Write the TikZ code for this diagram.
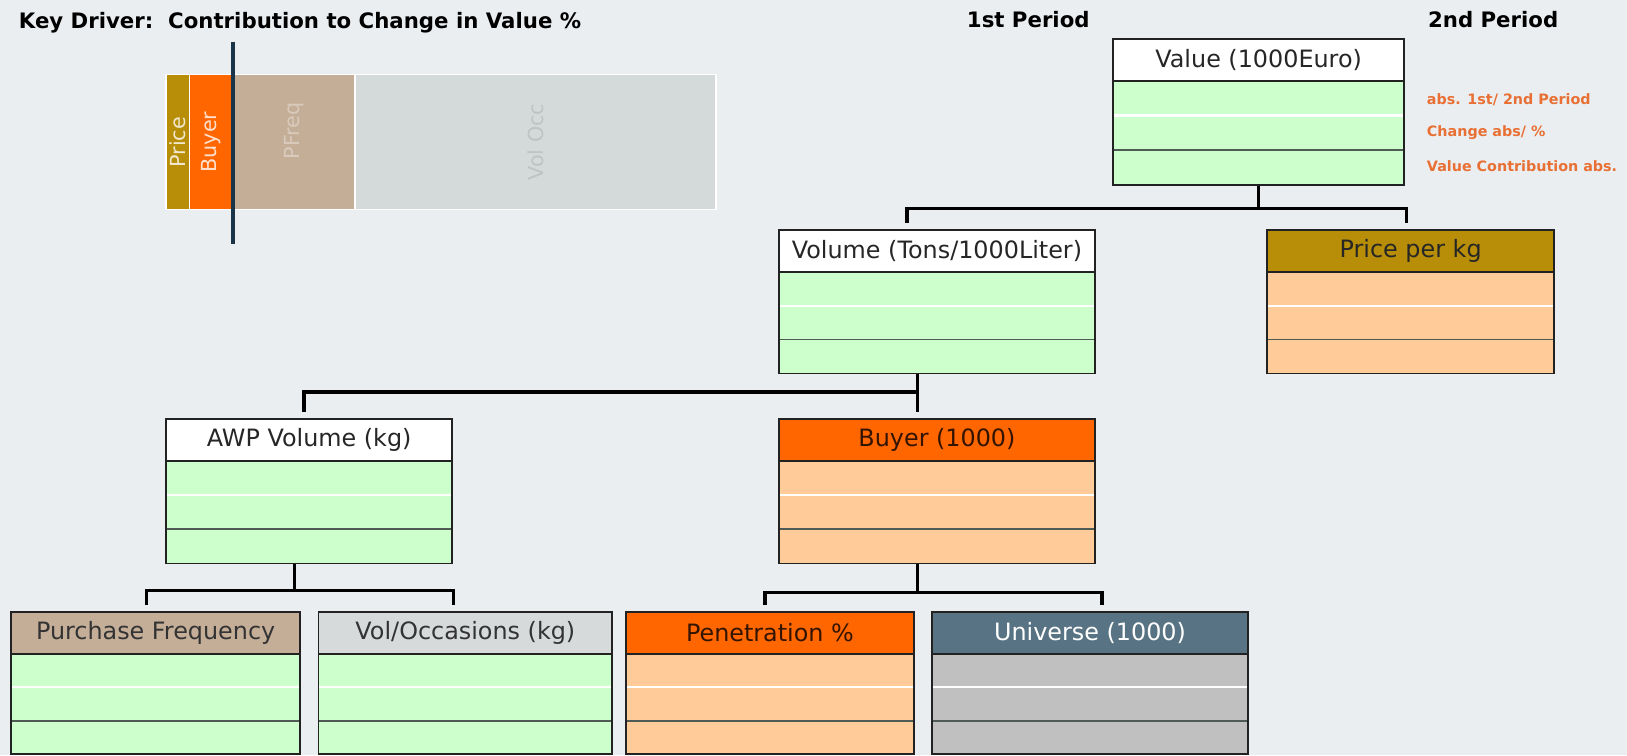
\documentclass[tikz,border=0pt]{standalone}
\usepackage{fontspec}
\setmainfont{DejaVu Sans}
\usetikzlibrary{fit,calc}

\definecolor{bg}{RGB}{235,238,240}
\definecolor{mint}{RGB}{204,255,204}
\definecolor{peach}{RGB}{255,204,153}
\definecolor{silverbody}{RGB}{192,192,192}
\definecolor{goldhead}{RGB}{184,142,8}
\definecolor{tangerine}{RGB}{255,102,0}
\definecolor{tanhead}{RGB}{196,174,152}
\definecolor{misthead}{RGB}{214,218,218}
\definecolor{mistbar}{RGB}{212,217,217}
\definecolor{slatehead}{RGB}{88,116,132}
\definecolor{notecol}{RGB}{232,112,52}
\definecolor{navyline}{RGB}{28,52,72}
\definecolor{edgecol}{RGB}{34,34,34}
\definecolor{rulecol}{RGB}{80,90,85}

\tikzset{
  headtext/.style={font=\fontsize{23}{27}\selectfont, inner sep=0pt},
  boxedge/.style={draw=edgecol, line width=1.8pt},
  whiterule/.style={white, line width=2pt},
  darkrule/.style={rulecol, line width=1.6pt},
  conn/.style={black, line width=3.4pt, line join=miter, shorten >=6pt},
  titletext/.style={font=\bfseries\fontsize{20.5}{24}\selectfont, text=black, inner sep=0pt},
  notetext/.style={font=\bfseries\fontsize{13.8}{16}\selectfont, text=notecol, inner sep=0pt, anchor=west},
  barlabel/.style={font=\fontsize{20}{24}\selectfont, rotate=90, inner sep=0pt},
}

% one table box: name, x1, y1, x2, y2, header fill, header text colour, body fill, caption
\newcommand\tabbox[9]{%
  \fill[#8] (#2,#3) rectangle (#4,#5);
  \fill[#6] (#2,#3) rectangle (#4,#3+40);
  \draw[whiterule] (#2,{#3+40+(#5-#3-40)/3}) -- (#4,{#3+40+(#5-#3-40)/3});
  \draw[darkrule] (#2,{#3+40+2*(#5-#3-40)/3}) -- (#4,{#3+40+2*(#5-#3-40)/3});
  \draw[edgecol, line width=2pt] (#2,#3+40) -- (#4,#3+40);
  \node[fit={(#2,#3) (#4,#5)}, inner sep=0pt, boxedge] (#1) {};
  \node[headtext, text=#7] (#1-cap) at ({(#2+#4)/2},#3+20) {#9};
}

\begin{document}
\begin{tikzpicture}[x=1pt,y=-1pt]
  \useasboundingbox (0,0) rectangle (1568,728);
  \fill[bg] (0,0) rectangle (1568,728);

  % headings
  \node[titletext, anchor=west] (title) at (18,22) {Key Driver:\ \ Contribution to Change in Value \%};
  \node[titletext] (p1) at (991,19) {1st Period};
  \node[titletext] (p2) at (1439,19) {2nd Period};

  % key driver bar
  \fill[goldhead] (160,72) rectangle (182.5,202);
  \fill[tangerine] (182.5,72) rectangle (224,202);
  \fill[tanhead] (224,72) rectangle (342,202);
  \fill[mistbar] (342,72) rectangle (690,202);
  \draw[white, line width=1.5pt] (160,72) rectangle (690,202);
  \draw[white, line width=1.5pt] (182.5,72) -- (182.5,202);
  \draw[white, line width=1.5pt] (342,72) -- (342,202);
  \node[barlabel, text=white!80!goldhead] (lprice) at (171.5,137) {Price};
  \node[barlabel, text=white!80!tangerine] (lbuyer) at (203,137) {Buyer};
  \node[barlabel, text=white!35!tanhead] (lpfreq) at (283,126) {PFreq};
  \node[barlabel, text=black!10!mistbar] (lvol) at (516,137) {Vol Occ};
  \draw[navyline, line width=4.5pt] (224.5,40) -- (224.5,235);

  % tables
  \tabbox{val}{1073}{38}{1353}{178}{white}{black!85}{mint}{Value (1000Euro)}
  \tabbox{vol}{751}{222}{1055}{360}{white}{black!85}{mint}{Volume (Tons/1000Liter)}
  \tabbox{price}{1221}{222}{1498}{360}{goldhead}{black!85}{peach}{Price per kg}
  \tabbox{awp}{160}{404}{436}{543}{white}{black!85}{mint}{AWP Volume (kg)}
  \tabbox{buyer}{751}{404}{1055}{543}{tangerine}{black!80!tangerine}{peach}{Buyer (1000)}
  \tabbox{pf}{11}{590}{289}{727}{tanhead}{black!80}{mint}{Purchase Frequency}
  \tabbox{vo}{307}{590}{590}{727}{misthead}{black!80}{mint}{Vol/Occasions (kg)}
  \tabbox{pen}{603}{590}{881}{727}{tangerine}{black!80!tangerine}{peach}{Penetration \%}
  \tabbox{uni}{898}{590}{1203}{727}{slatehead}{white}{silverbody}{Universe (1000)}

  % notes beside the value table
  \node[notetext] (n1) at (1375,96) {abs. 1st/ 2nd Period};
  \node[notetext] (n2) at (1375,128) {Change abs/ \%};
  \node[notetext] (n3) at (1375,160) {Value Contribution abs.};

  % connectors
  \draw[conn] (val.south) -- ++(0,22) coordinate (j1) -| ([xshift=-29pt]vol.north);
  \draw[conn] (j1) -| ([xshift=-4pt]price.north);

  \draw[conn] ([xshift=-19pt]vol.south) -- ([xshift=-19pt]buyer.north);
  \draw[conn] ([xshift=-19pt]vol.south) ++(0,17) coordinate (j2) -| ([xshift=-5pt]awp.north);

  \draw[conn, shorten >=0pt] ([xshift=-14pt]awp.south) -- ++(0,25) coordinate (j3);
  \draw[conn] (j3) -| ([xshift=-9pt]pf.north);
  \draw[conn] (j3) -| ([xshift=-11.5pt]vo.north);

  \draw[conn, shorten >=0pt] ([xshift=-19pt]buyer.south) -- ++(0,27) coordinate (j4);
  \draw[conn] (j4) -| ([xshift=-5pt]pen.north);
  \draw[conn] (j4) -| ([xshift=11.5pt]uni.north);
\end{tikzpicture}
\end{document}
